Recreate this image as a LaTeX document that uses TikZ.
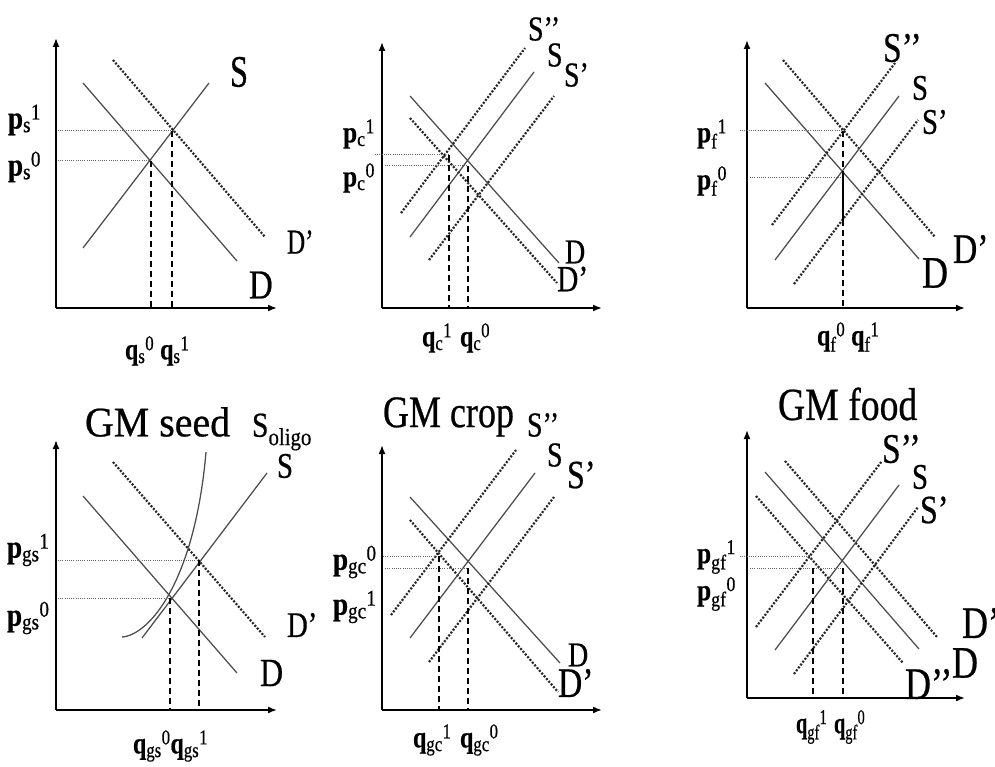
\documentclass[tikz,border=0pt]{standalone}
\usepackage{fontspec}
\usepackage{graphicx}
\setmainfont{Liberation Serif}[FakeBold=0.6]
\usetikzlibrary{arrows.meta}
\newcommand{\lbtxt}[3][0.8]{{\fontsize{#2}{#2}\selectfont\scalebox{#1}[1]{#3}}}
\newcommand{\pql}[3]{\textbf{#1}\textsubscript{#2}\textsuperscript{#3}}
\tikzset{
  lbl/.style={anchor=west, inner sep=0pt, outer sep=0pt},
  axisline/.style={line width=1.7pt, black, -{Latex[length=9pt,width=7pt]}},
  sline/.style={line width=1.25pt, black!70},
  dline/.style={line width=2.2pt, black!85, dash pattern=on 2pt off 1.6pt},
  hdot/.style={line width=1pt, black!60, dash pattern=on 1pt off 1.2pt},
  vdash/.style={line width=1.3pt, black, dash pattern=on 6pt off 4pt},
}
\begin{document}
\begin{tikzpicture}[x=1pt,y=-1pt]
\useasboundingbox[fill=white] (0,0) rectangle (995,767);

% ================= Panel 1 =================
\path (56,308) coordinate (o1) (56,38) coordinate (y1) (277,308) coordinate (x1);
\draw[axisline] (o1) -- (y1);
\draw[axisline] (o1) -- (x1);
\path (83,83) coordinate (d1a) (237,261) coordinate (d1b)
      (83,248) coordinate (s1a) (209,83) coordinate (s1b)
      (113,60) coordinate (dp1a) (265,237) coordinate (dp1b)
      (151,161) coordinate (e1z) (172,131) coordinate (e1o)
      (58,161) coordinate (h1z) (58,131) coordinate (h1o);
\draw[sline] (d1a) -- (d1b);
\draw[sline] (s1a) -- (s1b);
\draw[dline] (dp1a) -- (dp1b);
\draw[hdot] (h1z) -- (e1z);
\draw[hdot] (h1o) -- (e1o);
\draw[vdash] (e1z) -- (e1z |- o1);
\draw[vdash] (e1o) -- (e1o |- o1);
\node[lbl] (tS1) at (230,72) {\lbtxt[0.72]{45}{S}};
\node[lbl] (tDp1) at (287,242) {\lbtxt[0.72]{35}{D’}};
\node[lbl] (tD1) at (249,285) {\lbtxt{41}{D}};
\node[lbl] (tpa1) at (8,120) {\lbtxt[0.85]{32}{\pql{p}{s}{1}}};
\node[lbl] (tpb1) at (8,167) {\lbtxt[0.85]{32}{\pql{p}{s}{0}}};
\node[lbl] (tq1) at (125,351) {\lbtxt{30}{\pql{q}{s}{0} \pql{q}{s}{1}}};

% ================= Panel 2 =================
\path (382,308) coordinate (o2) (382,42) coordinate (y2) (602,308) coordinate (x2);
\draw[axisline] (o2) -- (y2);
\draw[axisline] (o2) -- (x2);
\path (410,96) coordinate (d2a) (559,263) coordinate (d2b)
      (410,118) coordinate (dp2a) (557,283) coordinate (dp2b)
      (410,237) coordinate (s2a) (534,72) coordinate (s2b)
      (401,213) coordinate (spp2a) (525,48) coordinate (spp2b)
      (429,260) coordinate (sp2a) (554,96) coordinate (sp2b)
      (449,155) coordinate (e2o) (468,166) coordinate (e2z)
      (375,155) coordinate (h2o) (385,166) coordinate (h2z);
\draw[sline] (d2a) -- (d2b);
\draw[dline] (dp2a) -- (dp2b);
\draw[sline] (s2a) -- (s2b);
\draw[dline] (spp2a) -- (spp2b);
\draw[dline] (sp2a) -- (sp2b);
\draw[hdot] (h2o) -- (e2o);
\draw[hdot] (h2z) -- (e2z);
\draw[vdash] (e2o) -- (e2o |- o2);
\draw[vdash] (e2z) -- (e2z |- o2);
\node[lbl] (tSpp2) at (528,29) {\lbtxt{35}{S’’}};
\node[lbl] (tS2) at (547,55) {\lbtxt{35}{S}};
\node[lbl] (tSp2) at (564,75) {\lbtxt{35}{S’}};
\node[lbl] (tD2) at (565,252) {\lbtxt{35}{D}};
\node[lbl] (tDp2) at (557,279) {\lbtxt{37}{D’}};
\node[lbl] (tpa2) at (343,134) {\lbtxt[0.85]{30}{\pql{p}{c}{1}}};
\node[lbl] (tpb2) at (343,178) {\lbtxt[0.85]{30}{\pql{p}{c}{0}}};
\node[lbl] (tqa2) at (422,338) {\lbtxt{30}{\pql{q}{c}{1}}};
\node[lbl] (tqb2) at (460,338) {\lbtxt{30}{\pql{q}{c}{0}}};

% ================= Panel 3 =================
\path (747,308) coordinate (o3) (747,40) coordinate (y3) (965,308) coordinate (x3);
\draw[axisline] (o3) -- (y3);
\draw[axisline] (o3) -- (x3);
\path (765,83) coordinate (d3a) (919,259) coordinate (d3b)
      (783,60) coordinate (dp3a) (935,237) coordinate (dp3b)
      (775,260) coordinate (s3a) (899,96) coordinate (s3b)
      (772,225) coordinate (spp3a) (895,63) coordinate (spp3b)
      (794,284) coordinate (sp3a) (918,120) coordinate (sp3b)
      (843,131) coordinate (e3o) (843,172) coordinate (e3z)
      (843,178) coordinate (e3zz) (843,220) coordinate (m3)
      (740,131) coordinate (h3o) (750,178) coordinate (h3z);
\draw[sline] (d3a) -- (d3b);
\draw[dline] (dp3a) -- (dp3b);
\draw[sline] (s3a) -- (s3b);
\draw[dline] (spp3a) -- (spp3b);
\draw[dline] (sp3a) -- (sp3b);
\draw[hdot] (h3o) -- (e3o);
\draw[hdot] (h3z) -- (e3zz);
\draw[vdash] (e3o) -- (e3z);
\draw[sline, black] (e3z) -- (m3);
\draw[vdash] (m3) -- (m3 |- o3);
\node[lbl] (tSpp3) at (883,48) {\lbtxt{42}{S’’}};
\node[lbl] (tS3) at (912,88) {\lbtxt{36}{S}};
\node[lbl] (tSp3) at (922,122) {\lbtxt{36}{S’}};
\node[lbl] (tDp3) at (953,249) {\lbtxt{42}{D’}};
\node[lbl] (tD3) at (922,273) {\lbtxt{45}{D}};
\node[lbl] (tpa3) at (697,134) {\lbtxt[0.85]{30}{\pql{p}{f}{1}}};
\node[lbl] (tpb3) at (697,181) {\lbtxt[0.85]{30}{\pql{p}{f}{0}}};
\node[lbl] (tq3) at (817,337) {\lbtxt{30}{\pql{q}{f}{0} \pql{q}{f}{1}}};

% ================= Panel 4 =================
\path (56,710) coordinate (o4) (56,440) coordinate (y4) (277,710) coordinate (x4);
\draw[axisline] (o4) -- (y4);
\draw[axisline] (o4) -- (x4);
\path (83,496) coordinate (d4a) (237,673) coordinate (d4b)
      (113,462) coordinate (dp4a) (265,637) coordinate (dp4b)
      (142,638) coordinate (s4a) (267,473) coordinate (s4b)
      (122,637) coordinate (so4a) (150,635) coordinate (so4c)
      (195,580) coordinate (so4d) (206,452) coordinate (so4b)
      (170,598) coordinate (e4z) (199,560) coordinate (e4o)
      (58,598) coordinate (h4z) (58,560) coordinate (h4o);
\draw[sline] (d4a) -- (d4b);
\draw[dline] (dp4a) -- (dp4b);
\draw[sline] (s4a) -- (s4b);
\draw[sline] (so4a) .. controls (so4c) and (so4d) .. (so4b);
\draw[hdot] (h4z) -- (e4z);
\draw[hdot] (h4o) -- (e4o);
\draw[vdash] (e4z) -- (e4z |- o4);
\draw[vdash] (e4o) -- (e4o |- o4);
\node[lbl] (tT4) at (85,422) {\lbtxt[0.95]{42}{GM seed}};
\node[lbl] (tSo4) at (252,432) {\lbtxt[0.85]{35}{S\textsubscript{oligo}}};
\node[lbl] (tS4) at (277,466) {\lbtxt{36}{S}};
\node[lbl] (tDp4) at (287,625) {\lbtxt{36}{D’}};
\node[lbl] (tD4) at (260,673) {\lbtxt{40}{D}};
\node[lbl] (tpa4) at (7,550) {\lbtxt[0.85]{32}{\pql{p}{gs}{1}}};
\node[lbl] (tpb4) at (7,618) {\lbtxt[0.85]{32}{\pql{p}{gs}{0}}};
\node[lbl] (tq4) at (133,746) {\lbtxt{30}{\pql{q}{gs}{0}\pql{q}{gs}{1}}};

% ================= Panel 5 =================
\path (382,710) coordinate (o5) (382,445) coordinate (y5) (602,710) coordinate (x5);
\draw[axisline] (o5) -- (y5);
\draw[axisline] (o5) -- (x5);
\path (410,497) coordinate (d5a) (560,663) coordinate (d5b)
      (410,520) coordinate (dp5a) (558,692) coordinate (dp5b)
      (410,638) coordinate (s5a) (535,473) coordinate (s5b)
      (391,615) coordinate (spp5a) (516,450) coordinate (spp5b)
      (429,662) coordinate (sp5a) (554,497) coordinate (sp5b)
      (439,556) coordinate (e5a) (468,568) coordinate (e5b)
      (383,556) coordinate (h5a) (385,568) coordinate (h5b);
\draw[sline] (d5a) -- (d5b);
\draw[dline] (dp5a) -- (dp5b);
\draw[sline] (s5a) -- (s5b);
\draw[dline] (spp5a) -- (spp5b);
\draw[dline] (sp5a) -- (sp5b);
\draw[hdot] (h5a) -- (e5a);
\draw[hdot] (h5b) -- (e5b);
\draw[vdash] (e5a) -- (e5a |- o5);
\draw[vdash] (e5b) -- (e5b |- o5);
\node[lbl] (tT5) at (383,417) {\lbtxt{45}{GM crop}};
\node[lbl] (tSpp5) at (527,425) {\lbtxt{35}{S’’}};
\node[lbl] (tS5) at (547,455) {\lbtxt{35}{S}};
\node[lbl] (tSp5) at (567,475) {\lbtxt{40}{S’}};
\node[lbl] (tD5) at (568,655) {\lbtxt{35}{D}};
\node[lbl] (tDp5) at (558,683) {\lbtxt{42}{D’}};
\node[lbl] (tpa5) at (333,562) {\lbtxt[0.85]{32}{\pql{p}{gc}{0}}};
\node[lbl] (tpb5) at (333,607) {\lbtxt[0.85]{32}{\pql{p}{gc}{1}}};
\node[lbl] (tqa5) at (413,740) {\lbtxt{30}{\pql{q}{gc}{1}}};
\node[lbl] (tqb5) at (460,740) {\lbtxt{30}{\pql{q}{gc}{0}}};

% ================= Panel 6 =================
\path (747,698) coordinate (o6) (747,430) coordinate (y6) (965,698) coordinate (x6);
\draw[axisline] (o6) -- (y6);
\draw[axisline] (o6) -- (x6);
\path (765,472) coordinate (d6a) (919,649) coordinate (d6b)
      (785,461) coordinate (dp6a) (937,637) coordinate (dp6b)
      (756,496) coordinate (dpp6a) (903,663) coordinate (dpp6b)
      (775,650) coordinate (s6a) (899,485) coordinate (s6b)
      (756,627) coordinate (spp6a) (882,461) coordinate (spp6b)
      (794,674) coordinate (sp6a) (918,507) coordinate (sp6b)
      (809,556) coordinate (e6a) (842,568) coordinate (e6b)
      (813,568) coordinate (v6a) (843,568) coordinate (v6b)
      (740,556) coordinate (h6a) (750,568) coordinate (h6b);
\draw[sline] (d6a) -- (d6b);
\draw[dline] (dp6a) -- (dp6b);
\draw[dline] (dpp6a) -- (dpp6b);
\draw[sline] (s6a) -- (s6b);
\draw[dline] (spp6a) -- (spp6b);
\draw[dline] (sp6a) -- (sp6b);
\draw[hdot] (h6a) -- (e6a);
\draw[hdot] (h6b) -- (e6b);
\draw[vdash] (v6a) -- (v6a |- o6);
\draw[vdash] (v6b) -- (v6b |- o6);
\node[lbl] (tT6) at (778,404) {\lbtxt[0.82]{46}{GM food}};
\node[lbl] (tSpp6) at (882,449) {\lbtxt{42}{S’’}};
\node[lbl] (tS6) at (912,477) {\lbtxt{36}{S}};
\node[lbl] (tSp6) at (920,510) {\lbtxt{40}{S’}};
\node[lbl] (tDp6) at (962,623) {\lbtxt{45}{D’}};
\node[lbl] (tD6) at (952,663) {\lbtxt{45}{D}};
\node[lbl] (tDpp6) at (905,684) {\lbtxt{45}{D’’}};
\node[lbl] (tpa6) at (697,557) {\lbtxt[0.85]{30}{\pql{p}{gf}{1}}};
\node[lbl] (tpb6) at (697,594) {\lbtxt[0.85]{30}{\pql{p}{gf}{0}}};
\node[lbl] (tqa6) at (796,727) {\lbtxt[0.68]{30}{\pql{q}{gf}{1}}};
\node[lbl] (tqb6) at (834,727) {\lbtxt[0.68]{30}{\pql{q}{gf}{0}}};
\end{tikzpicture}
\end{document}
